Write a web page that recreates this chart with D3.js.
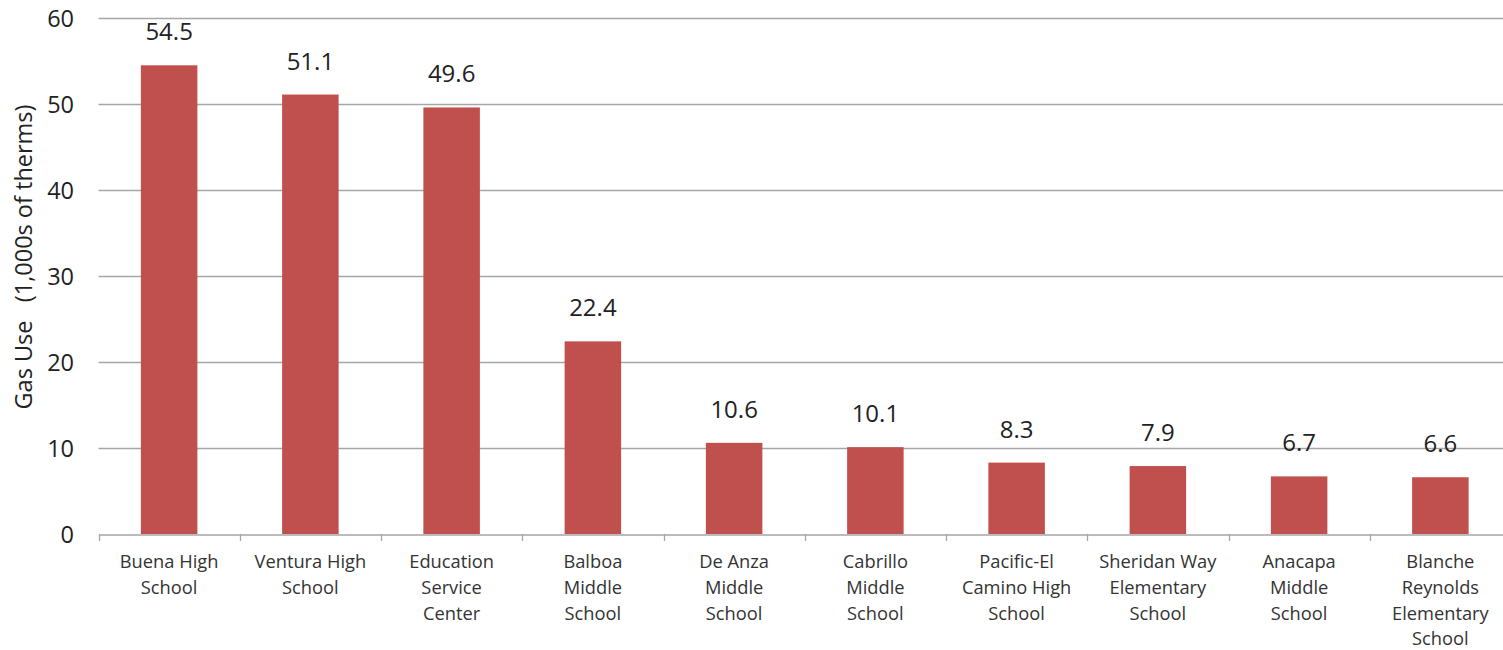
<!DOCTYPE html>
<html><head><meta charset="utf-8">
<script src="https://cdn.jsdelivr.net/npm/d3@7"></script>
<style>body{margin:0;background:#fff}svg{display:block}</style>
</head><body>
<svg id="c" width="1503" height="650"></svg>
<script>
const categories = [
  ["Buena High", "School"],
  ["Ventura High", "School"],
  ["Education", "Service", "Center"],
  ["Balboa", "Middle", "School"],
  ["De Anza", "Middle", "School"],
  ["Cabrillo", "Middle", "School"],
  ["Pacific-El", "Camino High", "School"],
  ["Sheridan Way", "Elementary", "School"],
  ["Anacapa", "Middle", "School"],
  ["Blanche", "Reynolds", "Elementary", "School"]
];
const values = [54.5, 51.1, 49.6, 22.4, 10.6, 10.1, 8.3, 7.9, 6.7, 6.6];
const yTicks = [0, 10, 20, 30, 40, 50, 60];
const yTitle = "Gas Use\u00a0\u00a0\u00a0(1,000s of therms)";

const svg = d3.select("#c");
const font = "'Open Sans', 'Liberation Sans', sans-serif";
const keys = categories.map((c, i) => i);
const x = d3.scaleBand().domain(keys).range([98.5, 1511]).paddingInner(0).paddingOuter(0);
const y = d3.scaleLinear().domain([0, 60]).range([534, 18]);

// gridlines
svg.append("g").selectAll("line").data(yTicks.filter(t => t > 0)).join("line")
  .attr("x1", 98.5).attr("x2", 1503)
  .attr("y1", d => Math.round(y(d)) + 0.5).attr("y2", d => Math.round(y(d)) + 0.5)
  .attr("stroke", "#a6a6a6").attr("stroke-width", 1.3);

// y tick labels
svg.append("g").selectAll("text").data(yTicks).join("text")
  .attr("x", 74).attr("y", d => y(d) + 8.5)
  .attr("text-anchor", "end").attr("font-family", font).attr("font-size", 23.5)
  .attr("fill", "#222").text(d => d);

// bars
const bw = x.bandwidth() * 0.4;
svg.append("g").selectAll("rect").data(values).join("rect")
  .attr("x", (d, i) => x(i) + x.bandwidth() / 2 - bw / 2)
  .attr("y", d => y(d)).attr("width", bw).attr("height", d => y(0) - y(d))
  .attr("fill", "#c0504d");

// x axis
const xAxis = d3.axisBottom(x).tickSize(0).tickFormat("");
const gx = svg.append("g").attr("transform", "translate(0,534.5)").call(xAxis);
gx.select(".domain").attr("stroke", "#a6a6a6").attr("stroke-width", 1.3);
const bounds = keys.map(i => x(i)).concat([x.range()[1]]);
svg.append("g").selectAll("line").data(bounds).join("line")
  .attr("x1", d => Math.round(d) + 0.5).attr("x2", d => Math.round(d) + 0.5)
  .attr("y1", 534).attr("y2", 541).attr("stroke", "#a6a6a6").attr("stroke-width", 1.3);

// category labels
const cl = svg.append("g").selectAll("text").data(categories).join("text")
  .attr("text-anchor", "middle").attr("font-family", font).attr("font-size", 18.3)
  .attr("fill", "#333")
  .attr("transform", (d, i) => `translate(${x(i) + x.bandwidth() / 2},568)`);
cl.selectAll("tspan").data(d => d).join("tspan")
  .attr("x", 0).attr("y", (d, j) => j * 25.8).text(d => d);

// data labels
svg.append("g").selectAll("text").data(values).join("text")
  .attr("x", (d, i) => x(i) + x.bandwidth() / 2).attr("y", d => y(d) - 25)
  .attr("text-anchor", "middle").attr("font-family", font).attr("font-size", 24)
  .attr("fill", "#222").text(d => d.toFixed(1));

// y title
svg.append("text").attr("transform", "translate(32,257) rotate(-90)")
  .attr("text-anchor", "middle").attr("font-family", font).attr("font-size", 23.5)
  .attr("fill", "#222").text(yTitle);
</script>
</body></html>
